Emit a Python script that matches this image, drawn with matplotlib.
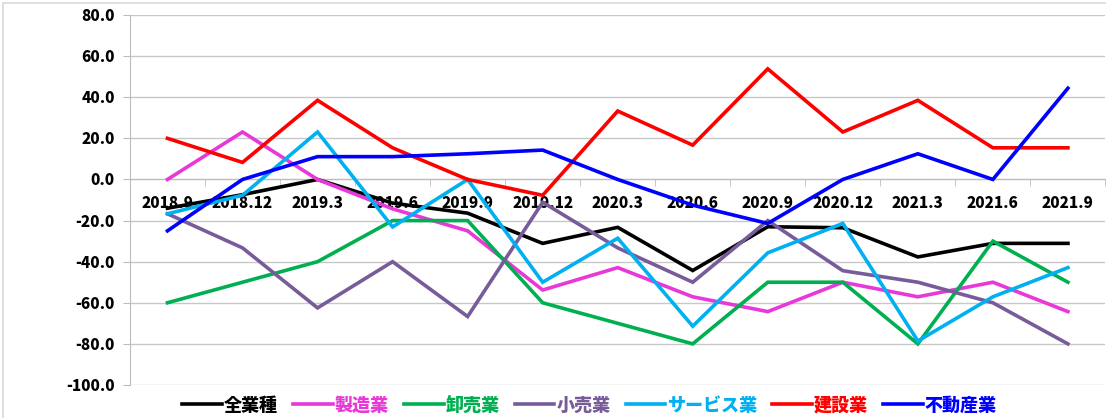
import matplotlib
matplotlib.use("Agg")
import matplotlib.pyplot as plt
from matplotlib.patches import Rectangle

plt.rcParams['font.family'] = ['Noto Sans CJK JP', 'DejaVu Sans']

# quarters on the x axis
periods = ["2018.9", "2018.12", "2019.3", "2019.6", "2019.9", "2019.12", "2020.3",
           "2020.6", "2020.9", "2020.12", "2021.3", "2021.6", "2021.9"]

# DI values
all_ind = [-14.0, -7.4, 0.0, -11.5, -16.4, -31.1, -23.3, -44.3, -23.0, -23.5, -37.7, -31.1, -31.1]
manuf = [0.0, 23.1, 0.0, -14.3, -25.0, -53.8, -42.9, -57.1, -64.3, -50.0, -57.1, -50.0, -64.3]
wholesale = [-60.0, -50.0, -40.0, -20.0, -20.0, -60.0, -70.0, -80.0, -50.0, -50.0, -80.0, -30.0, -50.0]
retail = [-16.7, -33.3, -62.5, -40.0, -66.7, -11.1, -33.3, -50.0, -20.0, -44.4, -50.0, -60.0, -80.0]
service = [-16.7, -7.7, 23.1, -23.1, 0.0, -50.0, -28.6, -71.4, -35.7, -21.4, -78.6, -57.1, -42.9]
construction = [20.0, 8.3, 38.5, 15.4, 0.0, -7.7, 33.3, 16.7, 53.8, 23.1, 38.5, 15.4, 15.4]
realestate = [-25.0, 0.0, 11.1, 11.1, 12.5, 14.3, 0.0, -12.5, -21.4, 0.0, 12.5, 0.0, 44.4]

series = [
    ("全業種", all_ind, "#000000"),
    ("製造業", manuf, "#e838d8"),
    ("卸売業", wholesale, "#00b050"),
    ("小売業", retail, "#775c99"),
    ("サービス業", service, "#00b0f0"),
    ("建設業", construction, "#ff0000"),
    ("不動産業", realestate, "#0000ff"),
]

fig = plt.figure(figsize=(11.06, 4.18), dpi=100)
ax = fig.add_axes([0.1175, 0.079, 0.882, 0.885])

x = list(range(len(periods)))
for name, vals, col in series:
    ax.plot(x, vals, color=col, lw=2.6, label=name, zorder=3, solid_joinstyle='miter')

ax.set_xlim(-0.5, len(periods) - 0.5)
ax.set_ylim(-100, 80)
ax.set_yticks(range(-100, 81, 20))
ax.set_yticklabels([f"{v:.1f}" for v in range(-100, 81, 20)], fontsize=11, fontweight='heavy')
ax.yaxis.grid(True, color='#c8c8c8', lw=1)
ax.set_axisbelow(True)

# category axis crosses at 0
ax.spines['bottom'].set_position(('data', 0))
ax.spines['bottom'].set_color('#bdbdbd')
ax.spines['left'].set_color('#bdbdbd')
ax.spines['top'].set_visible(False)
ax.spines['right'].set_visible(False)
ax.set_xticks(x)
ax.set_xticklabels(periods, fontsize=11, fontweight='heavy')
ax.set_xticks([i - 0.5 for i in range(len(periods) + 1)], minor=True)
ax.tick_params(axis='x', which='major', length=0, pad=12)
ax.tick_params(axis='x', which='minor', length=5, color='#bdbdbd')
ax.tick_params(axis='y', length=5, color='#bdbdbd', pad=6)

leg = fig.legend(loc='center', bbox_to_anchor=(0.533, 0.031), ncol=7, frameon=False,
                 handlelength=2.2, handletextpad=0.1, columnspacing=0.85,
                 labelcolor='linecolor', prop={'size': 13, 'weight': 'heavy'})

# chart area border
fig.patches.append(Rectangle((0.003, -0.1), 1.2, 1.093, transform=fig.transFigure,
                             fill=False, ec='#d9d9d9', lw=1.2))

fig.savefig("out.png", dpi=100)
